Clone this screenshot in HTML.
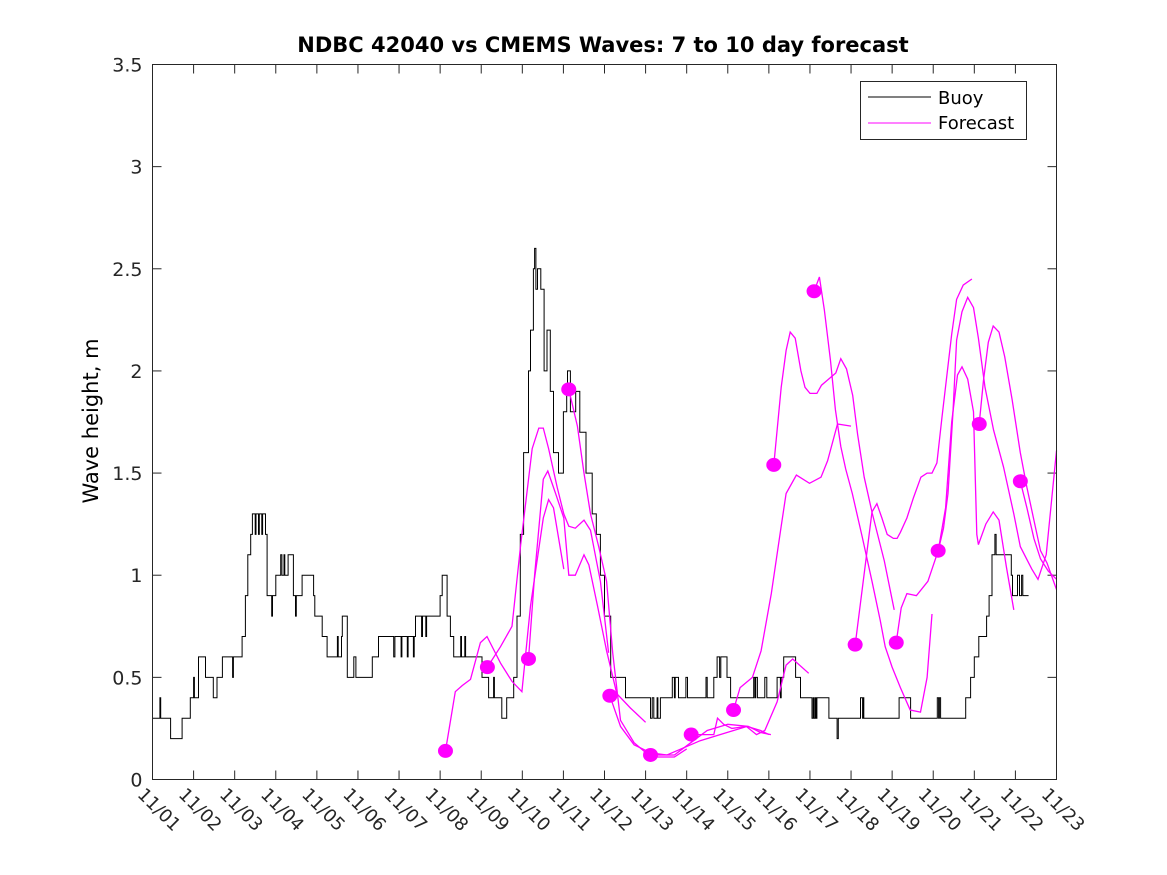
<!DOCTYPE html>
<html><head><meta charset="utf-8"><style>
html,body{margin:0;padding:0;background:#fff;}
svg{display:block;font-family:"DejaVu Sans","Liberation Sans",sans-serif;}
</style></head><body>
<svg id="chart" width="1167" height="875" viewBox="0 0 1167 875" xmlns="http://www.w3.org/2000/svg">
<rect x="0" y="0" width="1167" height="875" fill="#fff"/>
<text x="603" y="52" text-anchor="middle" font-size="21" font-weight="bold">NDBC 42040 vs CMEMS Waves: 7 to 10 day forecast</text>
<text transform="translate(98,421) rotate(-90)" text-anchor="middle" font-size="21">Wave height, m</text>
<g id="grid"></g>
<g id="series"></g>
<rect x="152.5" y="64.5" width="904" height="715" fill="none" stroke="#262626" stroke-width="1"/>
<g>
<rect x="860.5" y="81.5" width="166" height="58" fill="#fff" stroke="#262626"/>
<line x1="868" y1="97" x2="931" y2="97" stroke="#000" stroke-width="1"/>
<text x="938" y="104" font-size="18">Buoy</text>
<line x1="868" y1="123" x2="931" y2="123" stroke="#f0f" stroke-width="1"/>
<text x="938" y="129" font-size="18">Forecast</text>
</g>
</svg>
<script>
// ---- data ----
const xTickLabels = ["11/01","11/02","11/03","11/04","11/05","11/06","11/07","11/08","11/09","11/10","11/11","11/12","11/13","11/14","11/15","11/16","11/17","11/18","11/19","11/20","11/21","11/22","11/23"];
const yTickValues = [0,0.5,1,1.5,2,2.5,3,3.5];
const yTickLabels = ["0","0.5","1","1.5","2","2.5","3","3.5"];
// buoy: step series (day since 11/01, height m)
const buoyDays = [0,0.18,0.2,0.44,0.72,0.92,1.0,1.02,1.12,1.29,1.48,1.57,1.7,1.95,1.97,2.18,2.26,2.32,2.39,2.43,2.5,2.52,2.58,2.6,2.66,2.68,2.75,2.79,2.9,2.92,3.0,3.12,3.15,3.2,3.22,3.3,3.43,3.48,3.5,3.64,3.92,3.95,4.0,4.13,4.25,4.5,4.52,4.6,4.62,4.74,4.9,4.95,5.35,5.5,5.87,5.9,6.05,6.07,6.2,6.22,6.35,6.37,6.4,6.55,6.57,6.65,6.67,6.84,7.0,7.05,7.17,7.25,7.33,7.5,7.52,7.6,7.62,8.02,8.18,8.3,8.32,8.5,8.62,8.79,8.87,8.95,9.03,9.15,9.2,9.27,9.3,9.33,9.37,9.45,9.53,9.6,9.68,9.76,9.88,10.0,10.08,10.1,10.17,10.3,10.4,10.55,10.7,10.8,
 10.9,11.0,11.15,11.51,12.12,12.16,12.2,12.28,12.3,12.36,12.65,12.7,12.72,12.8,12.98,13.02,13.47,13.5,13.66,13.74,13.8,13.83,13.98,14.07,14.63,14.66,14.68,14.72,14.9,14.95,15.2,15.28,15.3,15.36,15.65,15.77,16.05,16.08,16.1,16.13,16.15,16.17,16.46,16.66,16.69,17.23,17.28,17.3,17.31,18.17,18.45,19.1,19.13,19.15,19.18,19.79,19.91,20.0,20.11,20.3,20.36,20.43,20.5,20.53,20.9,20.93,21.05,21.1,21.15,21.18,21.32];
const buoyValues = [0.3,0.4,0.3,0.2,0.3,0.4,0.5,0.4,0.6,0.5,0.4,0.5,0.6,0.5,0.6,0.7,0.9,1.1,1.2,1.3,1.2,1.3,1.2,1.3,1.2,1.3,1.2,0.9,0.8,0.9,1.0,1.1,1.0,1.1,1.0,1.1,0.9,0.8,0.9,1.0,0.9,0.8,0.8,0.7,0.6,0.7,0.6,0.7,0.8,0.5,0.6,0.5,0.6,0.7,0.6,0.7,0.6,0.7,0.6,0.7,0.6,0.7,0.8,0.7,0.8,0.7,0.8,0.8,0.9,1.0,0.8,0.7,0.6,0.7,0.6,0.7,0.6,0.5,0.4,0.5,0.4,0.3,0.4,0.5,0.8,1.2,1.6,2.0,2.2,2.5,2.6,2.4,2.5,2.4,2.0,2.2,1.9,1.6,1.5,1.8,1.9,2.0,1.8,1.9,1.7,1.5,1.3,1.2,
 1.0,0.8,0.5,0.4,0.3,0.4,0.3,0.4,0.3,0.4,0.5,0.4,0.5,0.4,0.5,0.4,0.5,0.4,0.5,0.6,0.5,0.6,0.5,0.4,0.5,0.4,0.5,0.4,0.5,0.4,0.5,0.4,0.5,0.6,0.5,0.4,0.3,0.4,0.3,0.4,0.3,0.4,0.3,0.2,0.3,0.4,0.3,0.4,0.3,0.4,0.3,0.4,0.3,0.4,0.3,0.4,0.5,0.6,0.7,0.8,0.9,1.1,1.2,1.1,1.0,0.9,1.0,0.9,1.0,0.9,0.9];
// forecast runs: days and heights
const fcDays = [
 [7.13,7.37,7.54,7.74,7.98,8.14,8.47,8.75,8.99,9.2,9.51,9.64,9.76,10.01],
 [8.15,8.47,8.75,8.96,9.24,9.4,9.51,9.64,9.85,10.01,10.13,10.29,10.5,10.66,10.9,11.1],
 [9.15,9.3,9.51,9.62,9.81,10.01,10.13,10.29,10.5,10.62,10.83,11.05,11.3,11.63,12.0],
 [10.13,10.34,10.5,10.66,10.86,11.05,11.2,11.39,11.72,12.13,12.7,13.0],
 [11.13,11.39,11.72,12.13,12.52,13.33,13.98,14.47,14.8,15.0],
 [12.12,12.7,13.1,13.5,14.0,14.5,14.8,15.05],
 [13.11,13.66,13.75,13.9,14.1,14.45,14.7,14.9,15.2,15.42,15.58,15.97],
 [14.14,14.3,14.6,14.81,15.06,15.3,15.42,15.67,15.99,16.27,16.43,16.67,17.0],
 [15.12,15.3,15.42,15.52,15.64,15.78,15.88,16.0,16.17,16.28,16.63,16.75,16.89,17.04,17.16,17.32,17.52,17.81,18.05],
 [16.1,16.23,16.35,16.5,16.62,16.75,16.87,17.03,17.27,17.51,17.71,17.83,18.0,18.2,18.44,18.69,18.85,18.97],
 [17.1,17.51,17.63,17.75,17.88,18.03,18.12,18.2,18.36,18.52,18.7,18.85,18.97,19.09,19.21,19.45,19.57,19.73,19.94],
 [18.1,18.22,18.36,18.59,18.87,19.12,19.3,19.45,19.59,19.7,19.84,19.98,20.06,20.1,20.28,20.46,20.6,20.78,20.96],
 [19.12,19.25,19.36,19.48,19.57,19.7,19.84,19.98,20.1,20.26,20.47,20.71,20.96,21.12,21.4,21.55,21.75,22.0],
 [20.12,20.22,20.34,20.46,20.6,20.74,20.92,21.12,21.28,21.45,21.61,21.77,22.0],
 [21.12,21.28,21.45,21.61,21.8,22.0]
];
const fcValues = [
 [0.14,0.43,0.46,0.49,0.67,0.70,0.57,0.48,0.43,0.85,1.28,1.37,1.33,1.03],
 [0.55,0.65,0.75,1.15,1.62,1.72,1.72,1.62,1.43,1.30,1.24,1.23,1.27,1.22,0.97,0.62],
 [0.59,1.0,1.47,1.51,1.40,1.28,1.00,1.00,1.10,1.05,0.85,0.63,0.42,0.35,0.28],
 [1.91,1.73,1.50,1.30,1.14,0.97,0.62,0.29,0.18,0.11,0.11,0.15],
 [0.41,0.26,0.17,0.13,0.12,0.19,0.23,0.26,0.24,0.22],
 [0.12,0.12,0.18,0.24,0.27,0.26,0.23,0.22],
 [0.22,0.22,0.30,0.27,0.25,0.26,0.22,0.24,0.38,0.56,0.59,0.52],
 [0.34,0.45,0.50,0.63,0.91,1.24,1.40,1.49,1.45,1.48,1.56,1.74,1.73],
 [1.54,1.92,2.10,2.19,2.16,2.00,1.92,1.89,1.89,1.93,1.99,2.06,2.01,1.88,1.69,1.48,1.30,1.07,0.83],
 [2.39,2.46,2.30,2.05,1.81,1.63,1.52,1.40,1.19,0.97,0.78,0.65,0.55,0.45,0.34,0.33,0.50,0.81],
 [0.66,1.31,1.35,1.28,1.20,1.18,1.18,1.21,1.28,1.38,1.48,1.50,1.50,1.55,1.77,2.18,2.35,2.42,2.45],
 [0.67,0.84,0.91,0.90,0.97,1.12,1.33,1.75,1.98,2.02,1.96,1.80,1.20,1.15,1.25,1.31,1.27,1.04,0.83],
 [1.12,1.23,1.40,1.80,2.15,2.29,2.36,2.31,2.16,1.92,1.71,1.53,1.30,1.14,1.03,0.98,1.10,1.61],
 [1.74,1.95,2.14,2.22,2.19,2.07,1.86,1.60,1.43,1.27,1.12,1.06,0.93],
 [1.46,1.33,1.18,1.08,1.02,0.98]
];
// ---- axes ----
const X0=152.5, X1=1056.5, Y0=779.5, Y1=64.5, DMAX=22, VMAX=3.5;
function xs(d){return X0+(d/DMAX)*(X1-X0);}
function ys(v){return Y0-(v/VMAX)*(Y0-Y1);}
const NS="http://www.w3.org/2000/svg";
const grid=document.getElementById('grid'), ser=document.getElementById('series');
function mk(tag,attrs,parent){const e=document.createElementNS(NS,tag);for(const k in attrs)e.setAttribute(k,attrs[k]);parent.appendChild(e);return e;}
xTickLabels.forEach((lab,i)=>{
  const x=xs(i);
  const t1=mk('line',{x1:x,y1:Y0,x2:x,y2:Y0-9,stroke:'#262626'},grid);
  
  
  const t2=mk('line',{x1:x,y1:Y1,x2:x,y2:Y1+9,stroke:'#262626'},grid);
  
  
  const tx=mk('text',{transform:`translate(${x-16},${Y0+16}) rotate(45)`,'font-size':'18','fill':'#262626'},grid);
  tx.textContent=lab;
  
  
});
yTickValues.forEach((v,i)=>{
  const y=ys(v);
  const t1=mk('line',{x1:X0,y1:y,x2:X0+9,y2:y,stroke:'#262626'},grid);
  
  
  const t2=mk('line',{x1:X1,y1:y,x2:X1-9,y2:y,stroke:'#262626'},grid);
  
  
  const tx=mk('text',{x:X0-10,y:y+7,'text-anchor':'end','font-size':'19','fill':'#262626'},grid);
  tx.textContent=yTickLabels[i];
  
  
});
// buoy step line
let p='';
buoyDays.forEach((d,i)=>{
  const x=xs(d).toFixed(1), y=ys(buoyValues[i]).toFixed(1);
  if(i===0){p+=`M${x},${y}`;}else{p+=`H${x}V${y}`;}
});
const bl=mk('path',{d:p,fill:'none',stroke:'#000','stroke-width':'1'},ser);


// forecasts
fcDays.forEach((ds,k)=>{
  const vs=fcValues[k];
  const pts=ds.map((d,i)=>xs(d).toFixed(1)+','+ys(vs[i]).toFixed(1)).join(' ');
  const pl=mk('polyline',{points:pts,fill:'none',stroke:'#f0f','stroke-width':'1.3'},ser);
  
  
});
fcDays.forEach((ds,k)=>{
  const c=mk('ellipse',{cx:xs(ds[0]),cy:ys(fcValues[k][0]),rx:7.5,ry:7,fill:'#f0f'},ser);
  
  
});
</script>
</body></html>
